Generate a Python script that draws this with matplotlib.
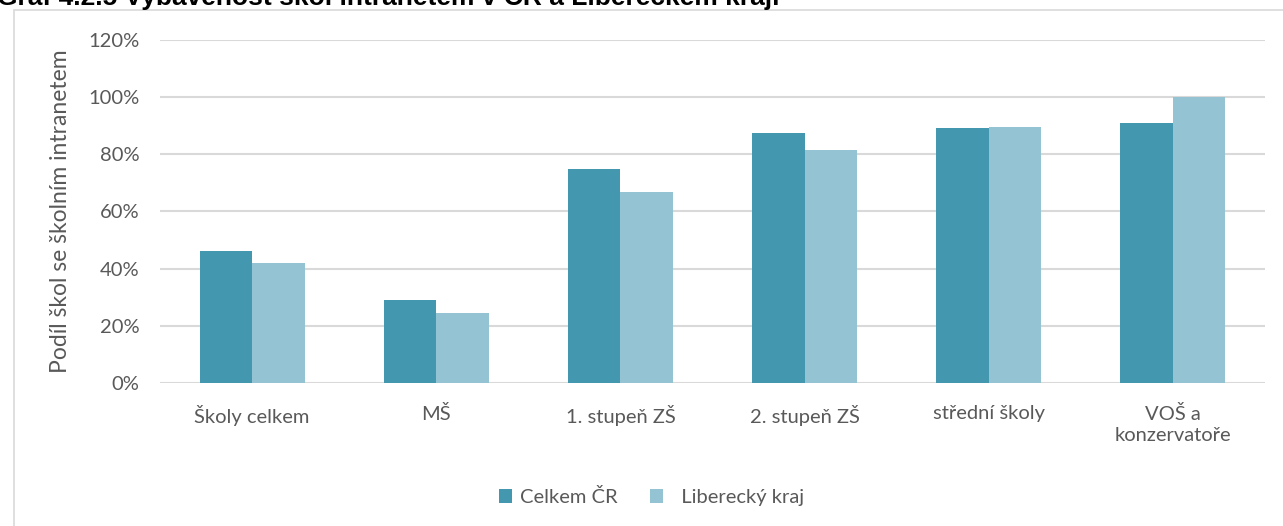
import numpy as np
import matplotlib.pyplot as plt
from matplotlib.patches import Rectangle
from matplotlib.ticker import FuncFormatter

# data
categories = ['Školy celkem', 'MŠ', '1. stupeň ZŠ', '2. stupeň ZŠ', 'střední školy', 'VOŠ a\nkonzervatoře']
celkem_cr = [46.0, 29.1, 74.9, 87.6, 89.3, 90.9]
liberecky = [42.0, 24.5, 66.7, 81.6, 89.4, 100.0]
series_names = ['Celkem ČR', '  Liberecký kraj']
title = 'Graf 4.2.5 Vybavenost škol intranetem v ČR a Libereckém kraji'
ylabel = 'Podíl škol se školním intranetem'

dark = '#4398AF'
light = '#94C3D4'
txt = '#595959'
grid = '#D9D9D9'

plt.rcParams['font.family'] = ['Lato', 'DejaVu Sans']

fig = plt.figure(figsize=(12.83, 5.26), dpi=100)
ax = fig.add_axes([0.1247, 0.272, 0.8613, 0.652])

# outer chart frame
fig.patches.append(Rectangle((14 / 1283, -0.01), 1.0, 1 - 10 / 526 + 0.01,
                             transform=fig.transFigure, fill=False,
                             edgecolor=grid, linewidth=1.2))

x = np.arange(len(categories))
w = 0.285
ax.bar(x - w / 2, celkem_cr, w, color=dark, label=series_names[0], zorder=3)
ax.bar(x + w / 2, liberecky, w, color=light, label=series_names[1], zorder=3)

ax.set_xlim(-0.5, len(categories) - 0.5)
ax.set_ylim(0, 120)
ax.set_yticks(np.arange(0, 121, 20))
ax.yaxis.set_major_formatter(FuncFormatter(lambda v, p: '%d%%' % v))
ax.yaxis.grid(True, color=grid, linewidth=1.5, zorder=0)
ax.set_xticks(x)
ax.set_xticklabels(categories, linespacing=1.3)
ax.tick_params(axis='both', length=0, labelsize=14.5, colors=txt)
ax.tick_params(axis='x', pad=16)
ax.tick_params(axis='y', pad=15)
for s in ax.spines.values():
    s.set_visible(False)

ax.set_ylabel(ylabel, fontsize=16.5, color=txt, labelpad=12)

ax.legend(loc='center', bbox_to_anchor=(0.5 + 10 / 1283, 1 - 497 / 526),
          bbox_transform=fig.transFigure, ncol=2, frameon=False,
          fontsize=14.5, labelcolor=txt, handlelength=0.65, handleheight=0.65,
          handletextpad=0.4, columnspacing=1.6)

fig.text(-0.002, 1 - 5 / 526, title, fontsize=19, fontweight='bold', color='black',
         family=['Liberation Sans', 'DejaVu Sans'], ha='left', va='baseline')

fig.savefig('out.png', dpi=100)
